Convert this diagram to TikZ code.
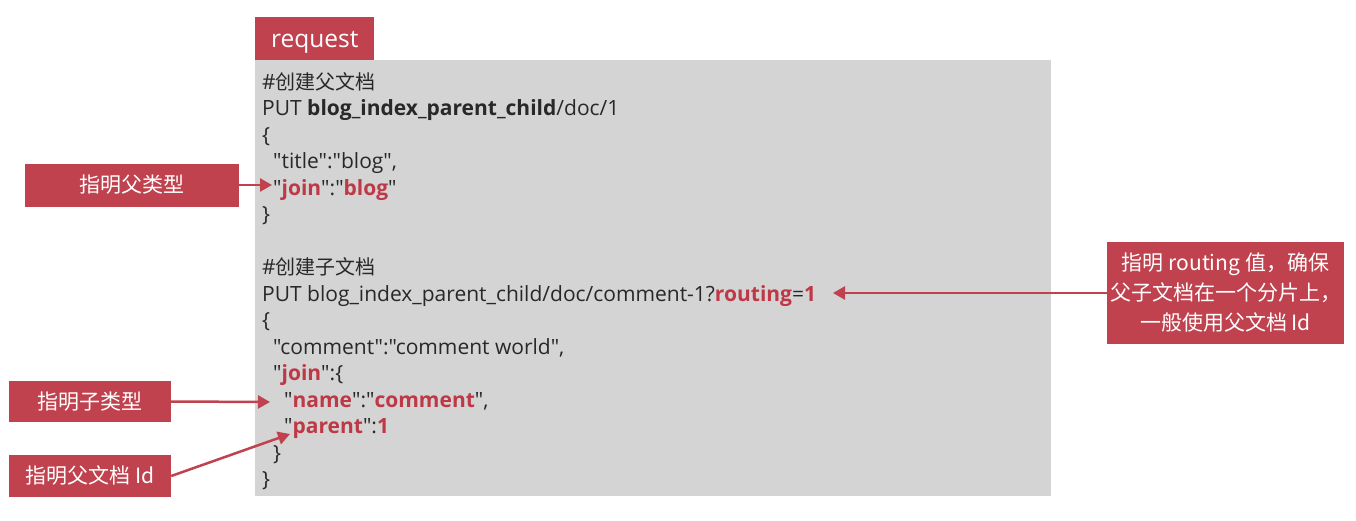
\documentclass[tikz,border=0pt]{standalone}
\usepackage{fontspec}
\setmainfont{Open Sans}[Ligatures=TeXOff]
\newfontfamily\cjk{Noto Sans CJK SC}
\usetikzlibrary{arrows.meta}
\definecolor{boxred}{RGB}{192,66,78}
\definecolor{codered}{RGB}{190,56,70}
\definecolor{graybg}{RGB}{212,212,212}
\definecolor{codetext}{RGB}{40,40,40}
\newcommand\redkw[1]{\textcolor{codered}{\bfseries #1}}
\begin{document}
\begin{tikzpicture}[x=1pt,y=-1pt,
  code/.style={anchor=base west, inner sep=0pt, font=\fontsize{21}{21}\selectfont, text=codetext},
  lbl/.style={fill=boxred, text=white, inner sep=0pt, font=\cjk\fontsize{21}{30}\selectfont, align=center},
  conn/.style={draw=boxred, line width=2.5pt, -{Triangle[length=12pt,width=13pt]}}]
\useasboundingbox (0,0) rectangle (1356,520);
\fill[white] (0,0) rectangle (1356,520);
\fill[graybg] (255,60) rectangle (1051,496);
\node[fill=boxred, minimum width=119pt, minimum height=43pt, anchor=north west, inner sep=0pt, text height=17pt, text depth=0pt, text=white, font=\fontsize{24.5}{24.5}\selectfont] (req) at (255,17) {request};
% code lines
\node[code] (c1) at (262,89) {\#{\cjk\fontsize{20}{20}\selectfont 创建父文档}};
\node[code] (c2) at (262,115.5) {PUT \textbf{blog\_index\_parent\_child}/doc/1};
\node[code] (c3) at (262,142) {\{};
\node[code] (c4) at (273,168.5) {"title":"blog",};
\node[code] (c5) at (273,195) {"\redkw{join}":"\redkw{blog}"};
\node[code] (c6) at (262,221.5) {\}};
\node[code] (c8) at (262,274.5) {\#{\cjk\fontsize{20}{20}\selectfont 创建子文档}};
\node[code] (c9) at (262,301) {PUT blog\_index\_parent\_child/doc/comment-1?\redkw{routing}=\redkw{1}};
\node[code] (c10) at (262,327.5) {\{};
\node[code] (c11) at (273,354) {"comment":"comment world",};
\node[code] (c12) at (273,380.5) {"\redkw{join}":\{};
\node[code] (c13) at (284,407) {"\redkw{name}":"\redkw{comment}",};
\node[code] (c14) at (284,433.5) {"\redkw{parent}":\redkw{1}};
\node[code] (c15) at (273,460) {\}};
\node[code] (c16) at (262,486.5) {\}};
% labels
\node[lbl, minimum width=214pt, minimum height=43pt] (l1) at (132,185) {指明父类型};
\node[lbl, minimum width=162pt, minimum height=41pt] (l2) at (90,401.5) {指明子类型};
\node[lbl, minimum width=162pt, minimum height=42pt] (l3) at (90,476) {指明父文档 Id};
\node[lbl, minimum width=237pt, minimum height=102pt] (r1) at (1225.5,293) {指明 routing 值，确保\\父子文档在一个分片上，\\一般使用父文档 Id};
% connectors
\coordinate (t1) at (272,185);
\coordinate (t2) at (270,402);
\coordinate (t3) at (290,434);
\coordinate (t4) at (833,293);
\draw[conn] (l1.east) -- (t1);
\draw[conn] (l2.east) -- (t2);
\draw[conn] (l3.east) -- (t3);
\draw[conn] (r1.west) -- (t4);
\end{tikzpicture}
\end{document}
